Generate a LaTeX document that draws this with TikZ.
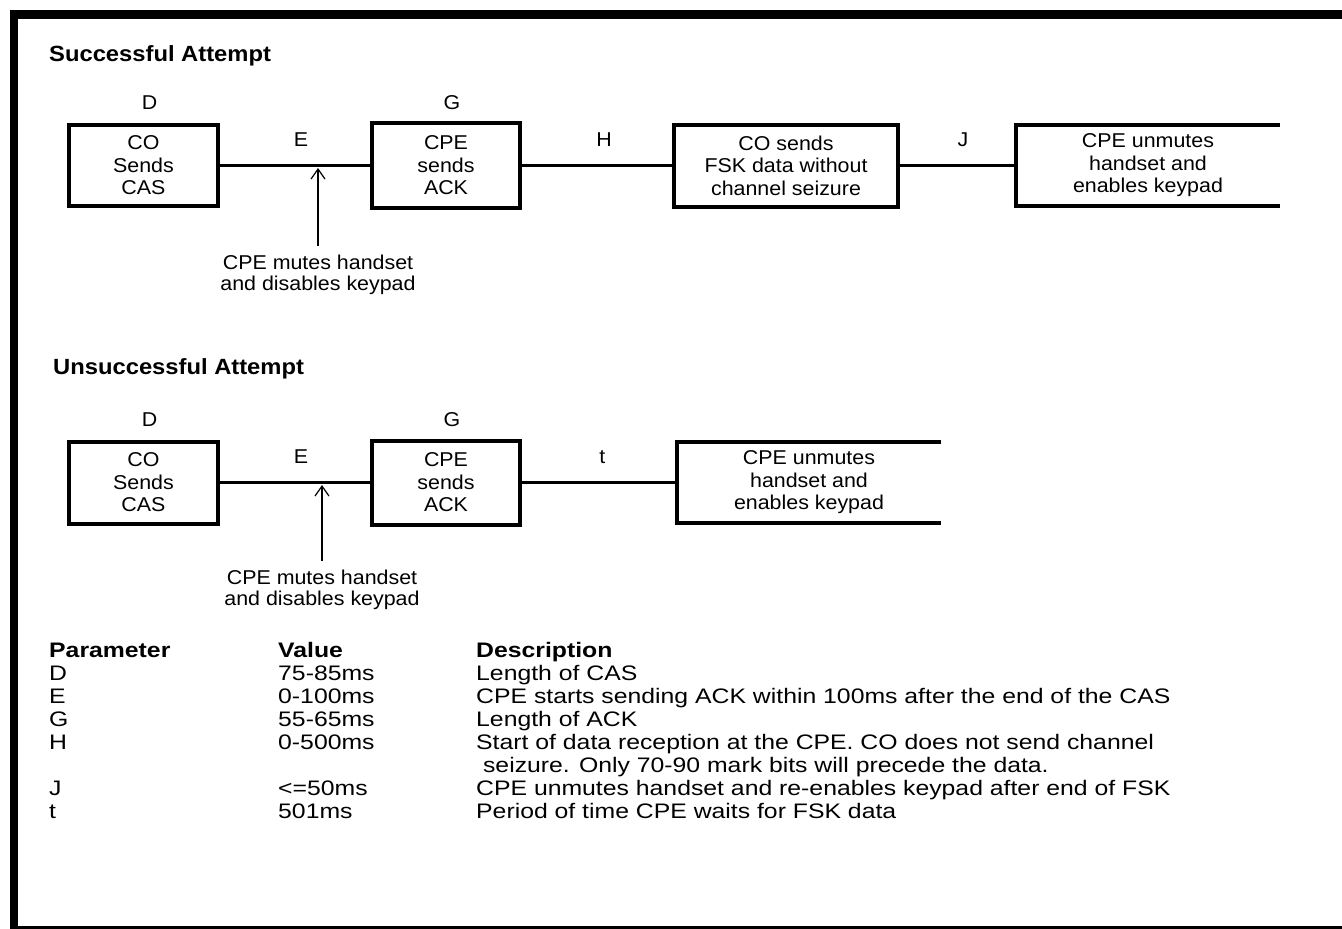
\documentclass[tikz,border=0pt]{standalone}
\usepackage{fontspec}
\setmainfont{Liberation Sans}
\newfontfamily\boxfont[FakeStretch=1.07]{Liberation Sans}
\newfontfamily\titlefont[FakeStretch=1.08]{Liberation Sans}
\newfontfamily\tablefont[FakeStretch=1.18]{Liberation Sans}
\usetikzlibrary{arrows.meta, positioning}

\begin{document}
\begin{tikzpicture}[x=1pt, y=-1pt,
        blockbox/.style={draw, line width=4pt, align=center, inner sep=0pt, font=\boxfont\fontsize{20}{22.5}\selectfont},
        openbox/.style={align=center, inner sep=0pt, font=\boxfont\fontsize{20}{22.5}\selectfont},
        time_label/.style={inner sep=0pt, font=\boxfont\fontsize{20}{24}\selectfont},
        title_label/.style={anchor=base west, inner sep=0pt, font=\titlefont\fontsize{22}{24}\selectfont\bfseries},
        link/.style={line width=3.5pt},
        pointer/.style={line width=1.2pt, -{Straight Barb[length=10pt, width=14pt]}},
        note/.style={align=center, inner sep=0pt, font=\boxfont\fontsize{20}{21}\selectfont},
        cell/.style={anchor=base west, inner sep=0pt, font=\tablefont\fontsize{21}{23}\selectfont},
        head_cell/.style={cell, font=\tablefont\fontsize{21}{23}\selectfont\bfseries}]

        % Page size and frame (no right edge)
        \useasboundingbox (0,0) rectangle (1342,929);
        \fill (10,10) rectangle (1342,19);
        \fill (10,10) rectangle (18,929);
        \fill (10,926) rectangle (1342,929);

        % Successful attempt
        \node[title_label] (succ) at (49,61) {Successful Attempt};
        \node[blockbox, minimum width=149pt, minimum height=81pt] (cas1) at (143.5,165.5) {CO\\Sends\\CAS};
        \node[blockbox, minimum width=148pt, minimum height=85pt] (ack1) at (446,165.5) {CPE\\sends\\ACK};
        \node[blockbox, minimum width=224pt, minimum height=82pt] (fsk1) at (786,165.5) {CO sends\\FSK data without\\channel seizure};
        \node[openbox, minimum width=264pt, minimum height=81pt] (unm1) at (1148,165.5) {CPE unmutes\\handset and\\enables keypad};
        \draw[line width=4pt] (unm1.north east) -- (unm1.north west) -- (unm1.south west) -- (unm1.south east);

        \node[time_label, above=13pt of cas1, xshift=6pt] (d1) {D};
        \node[time_label, above=11pt of ack1, xshift=6pt] (g1) {G};
        \draw[link] (cas1.east) -- node[time_label, above=17pt, xshift=6pt] (e1) {E} (ack1.west);
        \draw[link] (ack1.east) -- node[time_label, above=17pt, xshift=7pt] (h1) {H} (fsk1.west);
        \draw[link] (fsk1.east) -- node[time_label, above=17pt, xshift=5pt] (j1) {J} (unm1.west);

        \node[note] (mute1) at (318,275) {CPE mutes handset\\and disables keypad};
        \coordinate (hit1) at (318,168);
        \draw[pointer] ([yshift=9pt]mute1.north) -- (hit1);

        % Unsuccessful attempt
        \node[title_label] (unsucc) at (53,374) {Unsuccessful Attempt};
        \node[blockbox, minimum width=149pt, minimum height=82pt] (cas2) at (143.5,482.5) {CO\\Sends\\CAS};
        \node[blockbox, minimum width=148pt, minimum height=84pt] (ack2) at (446,482.5) {CPE\\sends\\ACK};
        \node[openbox, minimum width=264pt, minimum height=81pt] (unm2) at (809,482.5) {CPE unmutes\\handset and\\enables keypad};
        \draw[line width=4pt] (unm2.north east) -- (unm2.north west) -- (unm2.south west) -- (unm2.south east);

        \node[time_label, above=13pt of cas2, xshift=6pt] (d2) {D};
        \node[time_label, above=12pt of ack2, xshift=6pt] (g2) {G};
        \draw[link] (cas2.east) -- node[time_label, above=17pt, xshift=6pt] (e2) {E} (ack2.west);
        \draw[link] (ack2.east) -- node[time_label, above=17pt, xshift=3pt] (t2) {t} (unm2.west);

        \node[note] (mute2) at (322,590) {CPE mutes handset\\and disables keypad};
        \coordinate (hit2) at (322,485);
        \draw[pointer] ([yshift=9pt]mute2.north) -- (hit2);

        % Parameter table
        \node[head_cell] (par_head) at (49,657) {Parameter};
        \node[head_cell] (val_head) at (278,657) {Value};
        \node[head_cell] (desc_head) at (476,657) {Description};

        \node[cell] (par_d) at (49,680) {D};
        \node[cell] (val_d) at (278,680) {75-85ms};
        \node[cell] (desc_d) at (476,680) {Length of CAS};

        \node[cell] (par_e) at (49,703) {E};
        \node[cell] (val_e) at (278,703) {0-100ms};
        \node[cell] (desc_e) at (476,703) {CPE starts sending ACK within 100ms after the end of the CAS};

        \node[cell] (par_g) at (49,726) {G};
        \node[cell] (val_g) at (278,726) {55-65ms};
        \node[cell] (desc_g) at (476,726) {Length of ACK};

        \node[cell] (par_h) at (49,749) {H};
        \node[cell] (val_h) at (278,749) {0-500ms};
        \node[cell] (desc_h1) at (476,749) {Start of data reception at the CPE. CO does not send channel};
        \node[cell] (desc_h2) at (476,772) {\ seizure. Only 70-90 mark bits will precede the data.};

        \node[cell] (par_j) at (49,795) {J};
        \node[cell] (val_j) at (278,795) {<=50ms};
        \node[cell] (desc_j) at (476,795) {CPE unmutes handset and re-enables keypad after end of FSK};

        \node[cell] (par_t) at (49,818) {t};
        \node[cell] (val_t) at (278,818) {501ms};
        \node[cell] (desc_t) at (476,818) {Period of time CPE waits for FSK data};
    \end{tikzpicture}
\end{document}
